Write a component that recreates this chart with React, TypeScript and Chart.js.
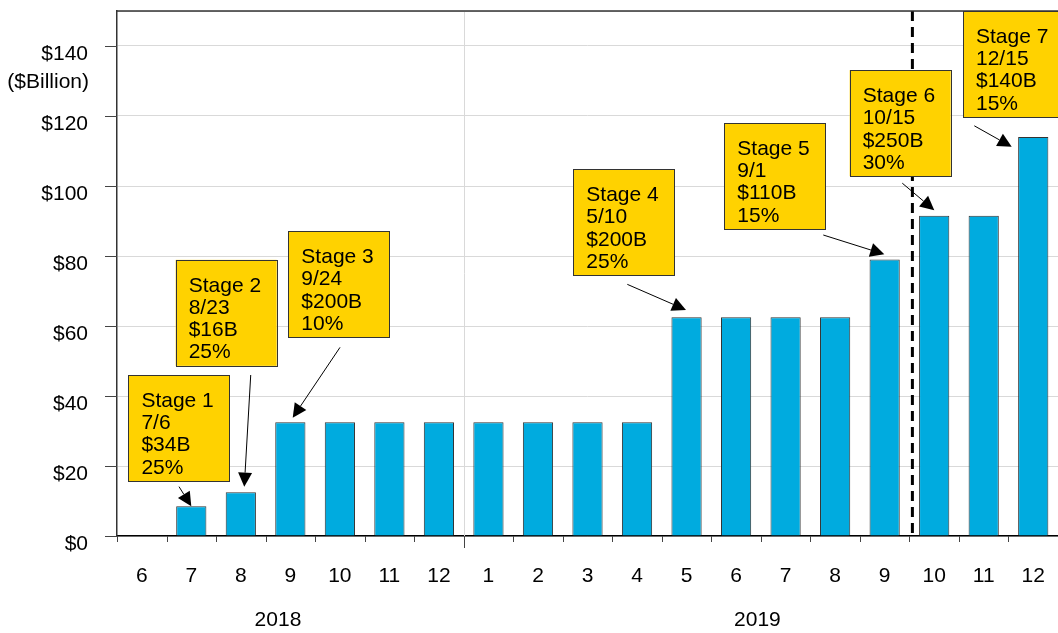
import React, { useEffect, useRef } from 'react';
import { Chart, registerables } from 'chart.js';

Chart.register(...registerables);

// ---- data ----
const months = ['6', '7', '8', '9', '10', '11', '12', '1', '2', '3', '4', '5', '6', '7', '8', '9', '10', '11', '12'];
const tariffs = [0, 8.5, 12.5, 32.5, 32.5, 32.5, 32.5, 32.5, 32.5, 32.5, 32.5, 62.5, 62.5, 62.5, 62.5, 79, 91.5, 91.5, 114];
const yTicks = [0, 20, 40, 60, 80, 100, 120, 140];
const yTickLabels = ['$0', '$20', '$40', '$60', '$80', '$100', '$120', '$140'];
const unitLabel = '($Billion)';
const unitLabelAt = 130; // value units
const years = ['2018', '2019'];
const yearLabelAt = [2.75, 12.43]; // category units
const yearBoundaryAt = [6.5]; // between Dec 2018 and Jan 2019
const dashedLineAt = 15.56; // between Sep and Oct 2019
const stageLines = [
  ['Stage 1', '7/6', '$34B', '25%'],
  ['Stage 2', '8/23', '$16B', '25%'],
  ['Stage 3', '9/24', '$200B', '10%'],
  ['Stage 4', '5/10', '$200B', '25%'],
  ['Stage 5', '9/1', '$110B', '15%'],
  ['Stage 6', '10/15', '$250B', '30%'],
  ['Stage 7', '12/15', '$140B', '15%'],
];
// box top-left corner [category, value]
const stageBoxAt = [
  [-0.27, 46.0],
  [0.685, 78.9],
  [2.96, 87.1],
  [8.713, 104.8],
  [11.762, 118.0],
  [14.294, 133.1],
  [16.582, 150.0],
];
const arrowFrom = [
  [0.752, 14.1],
  [2.2, 46.0],
  [4.003, 53.9],
  [9.804, 71.9],
  [13.761, 86.0],
  [15.356, 100.8],
  [16.81, 117.2],
];
const arrowTo = [
  [1.0, 8.5],
  [2.07, 14.1],
  [3.048, 33.8],
  [10.989, 64.6],
  [14.993, 80.5],
  [16.002, 93.1],
  [17.565, 111.2],
];

const FONT = '"Liberation Sans", Arial, Helvetica, sans-serif';

const overlayPlugin = {
  id: 'overlay',
  beforeDatasetsDraw(chart: any) {
    const { ctx, chartArea, scales } = chart;
    const xs = scales.x;
    ctx.save();
    // year boundary gridline
    ctx.strokeStyle = '#d9d9d9';
    ctx.lineWidth = 1;
    yearBoundaryAt.forEach((b) => {
      const x = Math.round(xs.getPixelForValue(b)) + 0.5;
      ctx.beginPath();
      ctx.moveTo(x, chartArea.top);
      ctx.lineTo(x, chartArea.bottom);
      ctx.stroke();
    });
    // dashed line
    const dx = xs.getPixelForValue(dashedLineAt);
    ctx.strokeStyle = '#000';
    ctx.lineWidth = 3;
    ctx.setLineDash([10, 6]);
    ctx.beginPath();
    ctx.moveTo(dx, chartArea.top);
    ctx.lineTo(dx, chartArea.bottom);
    ctx.stroke();
    ctx.restore();
  },
  afterDraw(chart: any) {
    const { ctx, chartArea, scales } = chart;
    const xs = scales.x;
    const ys = scales.y;
    ctx.save();
    // top border
    ctx.strokeStyle = '#333';
    ctx.lineWidth = 1.5;
    ctx.beginPath();
    ctx.moveTo(chartArea.left, chartArea.top);
    ctx.lineTo(chartArea.right, chartArea.top);
    ctx.stroke();

    // y tick marks + labels
    ctx.lineWidth = 1;
    ctx.strokeStyle = '#444';
    ctx.fillStyle = '#000';
    ctx.font = `21px ${FONT}`;
    ctx.textAlign = 'right';
    ctx.textBaseline = 'alphabetic';
    yTicks.forEach((v, i) => {
      const y = Math.round(ys.getPixelForValue(v)) + 0.5;
      ctx.beginPath();
      ctx.moveTo(chartArea.left - 12, y);
      ctx.lineTo(chartArea.left, y);
      ctx.stroke();
      ctx.fillText(yTickLabels[i], chartArea.left - 29, y + 13);
    });
    ctx.fillText(unitLabel, chartArea.left - 28, ys.getPixelForValue(unitLabelAt) + 7);

    // x tick marks
    const bottom = chartArea.bottom;
    for (let i = 0; i <= months.length; i++) {
      const v = i - 0.5;
      const x = Math.round(xs.getPixelForValue(v)) + 0.5;
      const long = yearBoundaryAt.includes(v);
      ctx.beginPath();
      ctx.moveTo(x, bottom);
      ctx.lineTo(x, bottom + (long ? 12 : 6));
      ctx.stroke();
    }
    // x labels
    ctx.textAlign = 'center';
    months.forEach((m, i) => {
      ctx.fillText(m, xs.getPixelForValue(i), bottom + 46);
    });
    years.forEach((yr, i) => {
      ctx.fillText(yr, xs.getPixelForValue(yearLabelAt[i]), bottom + 90);
    });

    // annotations
    const boxW = 101;
    const boxH = 106;
    stageLines.forEach((lines, i) => {
      const bx = xs.getPixelForValue(stageBoxAt[i][0]);
      const by = ys.getPixelForValue(stageBoxAt[i][1]);
      ctx.fillStyle = '#FFD200';
      ctx.fillRect(bx, by, boxW, boxH);
      ctx.strokeStyle = '#333';
      ctx.lineWidth = 1;
      ctx.strokeRect(Math.round(bx) + 0.5, Math.round(by) + 0.5, boxW, boxH);
      ctx.fillStyle = '#000';
      ctx.textAlign = 'left';
      lines.forEach((t, j) => {
        ctx.fillText(t, bx + 13, by + 32 + j * 22.2);
      });

      // arrow
      const x1 = xs.getPixelForValue(arrowFrom[i][0]);
      const y1 = ys.getPixelForValue(arrowFrom[i][1]);
      const x2 = xs.getPixelForValue(arrowTo[i][0]);
      const y2 = ys.getPixelForValue(arrowTo[i][1]);
      const ang = Math.atan2(y2 - y1, x2 - x1);
      const hl = 14;
      const hw = 7;
      const bxp = x2 - hl * Math.cos(ang);
      const byp = y2 - hl * Math.sin(ang);
      ctx.strokeStyle = '#000';
      ctx.lineWidth = 1;
      ctx.beginPath();
      ctx.moveTo(x1, y1);
      ctx.lineTo(bxp, byp);
      ctx.stroke();
      ctx.fillStyle = '#000';
      ctx.beginPath();
      ctx.moveTo(x2, y2);
      ctx.lineTo(bxp + hw * Math.sin(ang), byp - hw * Math.cos(ang));
      ctx.lineTo(bxp - hw * Math.sin(ang), byp + hw * Math.cos(ang));
      ctx.closePath();
      ctx.fill();
    });
    ctx.restore();
  },
};

export default function App() {
  const ref = useRef<HTMLCanvasElement | null>(null);
  useEffect(() => {
    if (!ref.current) return;
    const chart = new Chart(ref.current, {
      type: 'bar',
      data: {
        labels: months,
        datasets: [
          {
            data: tariffs,
            backgroundColor: '#00ABDF',
            borderColor: '#333',
            borderWidth: 1,
            barPercentage: 0.61,
            categoryPercentage: 1,
          },
        ],
      },
      options: {
        animation: false,
        responsive: false,
        maintainAspectRatio: false,
        layout: { padding: { top: 11, right: 0, left: 0, bottom: 0 } },
        plugins: { legend: { display: false }, tooltip: { enabled: false } },
        scales: {
          x: {
            offset: true,
            grid: { display: false },
            ticks: { display: false },
            border: { display: true, color: '#000', width: 1.5 },
            afterFit: (s: any) => {
              s.height = 633 - 536;
            },
          },
          y: {
            min: 0,
            max: 150,
            ticks: { display: false, stepSize: 20 },
            grid: { color: '#d9d9d9', lineWidth: 1, drawTicks: false },
            border: { display: true, color: '#333', width: 1.5 },
            afterFit: (s: any) => {
              s.width = 117;
            },
          },
        },
      },
      plugins: [overlayPlugin],
    });
    return () => chart.destroy();
  }, []);
  return (
    <div style={{ position: 'fixed', left: 0, top: 0, width: 1058, height: 633, background: '#fff' }}>
      <canvas ref={ref} width={1058} height={633} style={{ display: 'block' }} />
    </div>
  );
}
